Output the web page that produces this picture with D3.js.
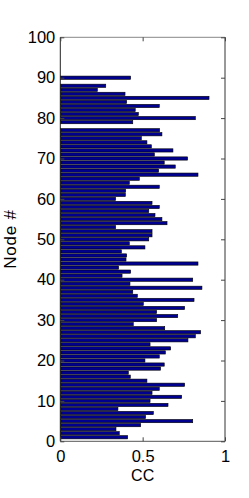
<!DOCTYPE html>
<html>
<head>
<meta charset="utf-8">
<script src="https://cdn.jsdelivr.net/npm/d3@7/dist/d3.min.js"></script>
<style>
  html, body { margin: 0; padding: 0; background: #fff; }
  svg { display: block; font-family: "Liberation Sans", Arial, Helvetica, sans-serif; }
</style>
</head>
<body>
<svg id="chart" width="249" height="498"></svg>
<script>
// clustering coefficient per node (node 1 .. 90), null = no bar
const nodes = d3.range(1, 91);
const ccValues = [
  0.409, 0.358, 0.338, 0.488, 0.804, 0.518, 0.565, 0.350, 0.654, 0.545,
  0.737, 0.557, 0.601, 0.755, 0.526, 0.425, 0.413, 0.609, 0.631, 0.514,
  0.601, 0.638, 0.670, 0.545, 0.775, 0.820, 0.852, 0.634, 0.443, 0.585,
  0.713, 0.585, 0.755, 0.504, 0.812, 0.468, 0.440, 0.860, 0.423, 0.804,
  0.375, 0.427, 0.354, 0.836, 0.399, 0.403, 0.371, 0.514, 0.419, 0.537,
  0.557, 0.557, 0.336, 0.648, 0.617, 0.575, 0.537, 0.601, 0.557, 0.336,
  0.395, 0.397, 0.601, 0.419, 0.480, 0.836, 0.597, 0.698, 0.631, 0.773,
  0.571, 0.684, 0.553, 0.526, 0.492, 0.617, 0.603, null, 0.440, 0.820,
  0.474, 0.455, 0.601, 0.403, 0.903, 0.393, 0.225, 0.276, null, 0.427
];
const xTicks = [0, 0.5, 1];
const xTickLabels = ["0", "0.5", "1"];
const yTicks = d3.range(0, 101, 10);

const svg = d3.select("#chart");
const margin = { top: 37.3, right: 24, bottom: 56.7, left: 60.3 };
const width = 249, height = 498;

const x = d3.scaleLinear().domain([0, 1]).range([margin.left, width - margin.right]);
const y = d3.scaleLinear().domain([0, 100]).range([height - margin.bottom, margin.top]);
const barH = (y(0) - y(1)) * 0.8;

const data = nodes.map((n, i) => ({ node: n, cc: ccValues[i] })).filter(d => d.cc != null);

// bars
svg.append("g")
  .selectAll("rect")
  .data(data)
  .join("rect")
  .attr("x", x(0))
  .attr("y", d => y(d.node) - barH / 2)
  .attr("width", d => x(d.cc) - x(0))
  .attr("height", barH)
  .attr("fill", "#00008f")
  .attr("stroke", "#000")
  .attr("stroke-width", 0.6);

// box
svg.append("line")
  .attr("x1", x(0)).attr("x2", x(1))
  .attr("y1", y(100)).attr("y2", y(100))
  .attr("stroke", "#888");
svg.append("line")
  .attr("x1", x(1)).attr("x2", x(1))
  .attr("y1", y(100)).attr("y2", y(0))
  .attr("stroke", "#333");
svg.append("line")
  .attr("x1", x(0)).attr("x2", x(1))
  .attr("y1", y(0)).attr("y2", y(0))
  .attr("stroke", "#555");
svg.append("line")
  .attr("x1", x(0)).attr("x2", x(0))
  .attr("y1", y(100)).attr("y2", y(0))
  .attr("stroke", "#222");

const tickLen = 4;
const axisStyle = g => {
  g.select(".domain").remove();
  g.selectAll(".tick line").attr("stroke", "#444");
  g.selectAll(".tick text").attr("fill", "#000").style("font-size", "16.5px");
};

// axes, ticks inside
svg.append("g")
  .attr("transform", `translate(0,${y(0)})`)
  .call(d3.axisBottom(x).tickValues(xTicks).tickFormat((d, i) => xTickLabels[i])
    .tickSizeInner(-tickLen).tickPadding(9))
  .call(axisStyle)
  .attr("font-family", null);

svg.append("g")
  .attr("transform", `translate(0,${y(100)})`)
  .call(d3.axisTop(x).tickValues(xTicks).tickFormat("").tickSizeInner(-tickLen))
  .call(axisStyle);

svg.append("g")
  .attr("transform", `translate(${x(0)},0)`)
  .call(d3.axisLeft(y).tickValues(yTicks).tickFormat(d3.format("d"))
    .tickSizeInner(-tickLen).tickPadding(5))
  .call(axisStyle)
  .attr("font-family", null);

svg.append("g")
  .attr("transform", `translate(${x(1)},0)`)
  .call(d3.axisRight(y).tickValues(yTicks).tickFormat("").tickSizeInner(-tickLen))
  .call(axisStyle);

// axis labels
svg.append("text")
  .attr("x", (x(0) + x(1)) / 2)
  .attr("y", 481)
  .attr("text-anchor", "middle")
  .style("font-size", "16px")
  .text("CC");

svg.append("text")
  .attr("transform", `translate(16,239) rotate(-90)`)
  .attr("text-anchor", "middle")
  .style("font-size", "17px")
  .style("letter-spacing", "0.8px")
  .text("Node #");
</script>
</body>
</html>
